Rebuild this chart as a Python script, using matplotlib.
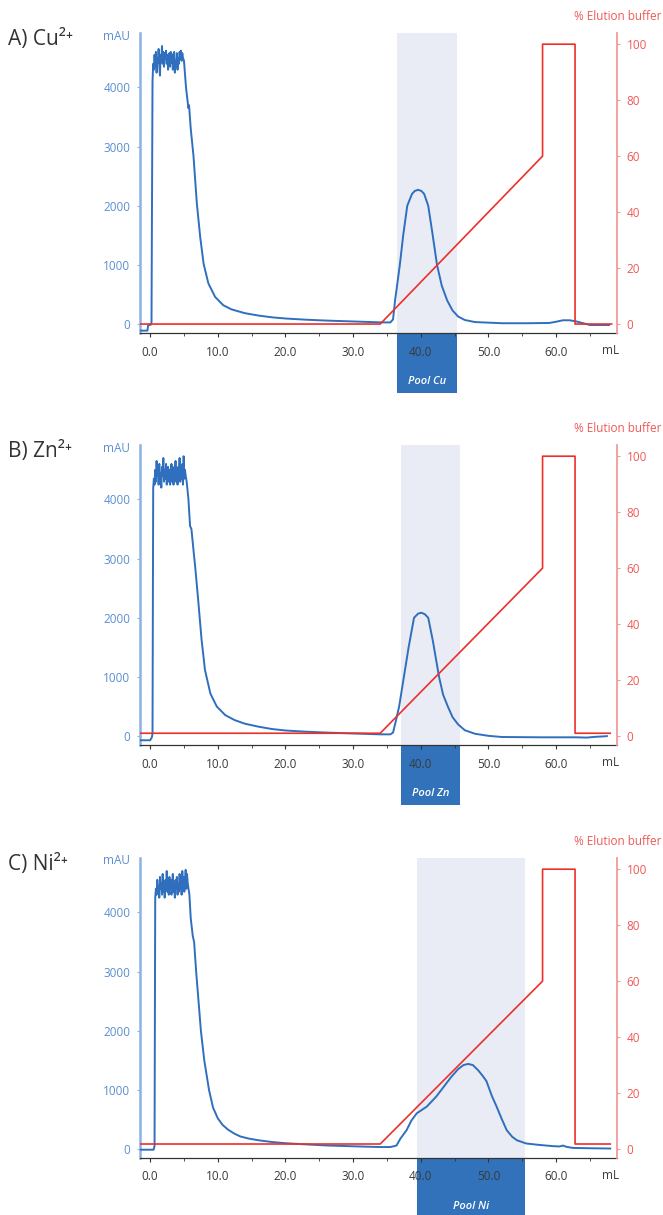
import matplotlib
matplotlib.use("Agg")
import matplotlib.pyplot as plt
from matplotlib.patches import Rectangle
from matplotlib.ticker import MultipleLocator
import matplotlib.transforms as mtransforms

plt.rcParams["font.family"] = ["Open Sans", "DejaVu Sans"]

# --- data (mL, mAU / % buffer B) ---
cu_ml = [-1.5, -0.4, -0.3, 0.1, 0.2, 0.35,
         0.45, 0.55, 0.65, 0.75, 0.85, 0.95, 1.05, 1.15, 1.25, 1.35, 1.45, 1.55,
         1.65, 1.75, 1.85, 1.95, 2.05, 2.15, 2.25, 2.35, 2.45, 2.55, 2.65, 2.75,
         2.85, 2.95, 3.05, 3.15, 3.25, 3.35, 3.45, 3.55, 3.65, 3.75, 3.85, 3.95,
         4.05, 4.15, 4.25, 4.35, 4.45, 4.55, 4.65, 4.75, 4.85, 5.0,
         5.3, 5.5, 5.66, 5.75, 6.0, 6.4, 6.9, 7.4, 7.9, 8.6, 9.6, 10.8, 12, 14,
         16, 18, 20, 23, 26, 30, 34, 35.5, 35.9, 36.2, 36.9, 37.4, 38.0, 38.7,
         39.1, 39.6, 40.1, 40.5, 41.1, 41.7, 42.4, 43.1, 43.9, 44.7, 45.5, 46.5,
         48, 52, 56, 59, 60, 61, 62, 63, 63.5, 64.5, 65, 67.8]
cu_mau = [-110, -110, -20, -10, 30, 4100,
          4400, 4300, 4550, 4350, 4600, 4250, 4500, 4420, 4650, 4380, 4200, 4550,
          4450, 4700, 4400, 4600, 4350, 4580, 4480, 4620, 4400, 4550, 4300, 4500,
          4580, 4350, 4600, 4420, 4560, 4300, 4480, 4600, 4250, 4450, 4350, 4580,
          4300, 4500, 4400, 4600, 4480, 4620, 4450, 4580, 4500, 4450,
          4000, 3800, 3650, 3700, 3300, 2850, 2040, 1470, 1020, 690, 460, 320, 250, 185,
          145, 115, 95, 75, 60, 45, 30, 28, 80, 400, 1000, 1500, 2000, 2200,
          2250, 2270, 2250, 2200, 2000, 1550, 1000, 650, 400, 230, 130, 70,
          35, 15, 15, 20, 40, 65, 65, 45, 30, 0, -15, -15]

zn_ml = [-1.5, 0.0, 0.25, 0.35,
         0.45, 0.55, 0.65, 0.75, 0.85, 0.95, 1.05, 1.15, 1.25, 1.35, 1.45, 1.55,
         1.65, 1.75, 1.85, 1.95, 2.05, 2.15, 2.25, 2.35, 2.45, 2.55, 2.65, 2.75,
         2.85, 2.95, 3.05, 3.15, 3.25, 3.35, 3.45, 3.55, 3.65, 3.75, 3.85, 3.95,
         4.05, 4.15, 4.25, 4.35, 4.45, 4.55, 4.65, 4.75, 4.85, 4.95, 5.05, 5.15,
         5.25, 5.4,
         5.66, 5.9, 6.1, 6.4, 6.65, 7.1, 7.6, 8.1, 8.9, 9.85, 11.1, 12.5, 14, 16,
         18, 20, 23, 26, 30, 34, 35.5, 35.9, 36.3, 36.8, 37.5, 38.2, 39.0, 39.6,
         40.1, 40.6, 41.1, 41.8, 42.7, 43.3, 44.0, 44.7, 45.5, 46.5, 48, 50,
         52, 58, 63, 64.5, 66, 67, 67.5]
zn_mau = [-70, -70, -20, 40,
          4200, 4350, 4250, 4500, 4300, 4650, 4400, 4550, 4250, 4600, 4350, 4450,
          4200, 4550, 4400, 4700, 4300, 4500, 4350, 4600, 4250, 4450, 4550, 4300,
          4500, 4250, 4400, 4600, 4300, 4550, 4250, 4450, 4350, 4650, 4300, 4500,
          4250, 4550, 4400, 4700, 4300, 4500, 4350, 4600, 4250, 4730, 4350, 4500,
          4400, 4300,
          4000, 3550, 3500, 3150, 2870, 2300, 1630, 1120, 720, 500, 355, 270, 210, 160,
          120, 95, 75, 60, 45, 30, 30, 60, 250, 500, 1000, 1500, 2000, 2070,
          2085, 2060, 2000, 1600, 1000, 700, 500, 320, 200, 100, 40, 5,
          -15, -20, -20, -25, -10, -5, 0]

ni_ml = [-1.5, 0.5, 0.65, 0.75,
         0.85, 0.95, 1.05, 1.15, 1.25, 1.35, 1.45, 1.55, 1.65, 1.75, 1.85, 1.95,
         2.05, 2.15, 2.25, 2.35, 2.45, 2.55, 2.65, 2.75, 2.85, 2.95, 3.05, 3.15,
         3.25, 3.35, 3.45, 3.55, 3.65, 3.75, 3.85, 3.95, 4.05, 4.15, 4.25, 4.35,
         4.45, 4.55, 4.65, 4.75, 4.85, 4.95, 5.05, 5.15, 5.25, 5.35, 5.45, 5.55,
         5.8, 6.0, 6.3, 6.5, 6.8, 7.5, 8.0, 8.7, 9.3, 10.0, 10.7, 11.5, 12.4,
         13.3, 14.5, 16, 18, 20, 23, 26,
         30, 34, 35.5, 36.4, 37.0, 37.9, 38.6, 39.4, 40.9, 42.3, 43.8, 44.5, 45.5,
         46.3, 47.0, 47.7, 48.5, 49.2, 49.7, 50.5, 51.2, 52, 52.7, 53.5, 54.2,
         55.6, 57.6, 59.6, 60.5, 61.0, 61.5, 62.5, 65, 68]
ni_mau = [-10, -10, 50, 4250,
          4400, 4300, 4550, 4350, 4450, 4250, 4600, 4400, 4500, 4300, 4650, 4350,
          4500, 4250, 4550, 4400, 4700, 4350, 4500, 4300, 4600, 4400, 4550, 4300,
          4450, 4650, 4350, 4500, 4250, 4550, 4400, 4600, 4300, 4500, 4350, 4650,
          4400, 4550, 4300, 4700, 4450, 4600, 4350, 4500, 4720, 4400, 4650, 4500,
          4300, 3900, 3600, 3500, 3000, 2000, 1500, 1000, 700, 520, 410, 330, 265,
          215, 180, 150, 120, 100, 80, 62,
          48, 35, 35, 60, 180, 320, 480, 605, 720, 890, 1115, 1220, 1350,
          1420, 1440, 1420, 1330, 1230, 1150, 900, 720, 500, 320, 210, 150,
          95, 70, 50, 45, 60, 40, 20, 15, 10]

# gradient (% elution buffer)
cu_grad_ml = [-1.5, 34.0, 58.0, 58.0, 62.8, 62.8, 68.2]
cu_grad_pct = [0, 0, 60, 100, 100, 0, 0]
zn_grad_ml = [-1.5, 34.0, 58.0, 58.0, 62.8, 62.8, 68.0]
zn_grad_pct = [1.0, 1.0, 60, 100, 100, 1.0, 1.0]
ni_grad_ml = [-1.5, 34.0, 58.0, 58.0, 62.8, 62.8, 68.0]
ni_grad_pct = [1.8, 1.8, 60, 100, 100, 1.8, 1.8]

# pooled fractions (mL)
pools = [(36.5, 45.3), (37.1, 45.8), (39.4, 55.4)]
pool_labels = ["Pool Cu", "Pool Zn", "Pool Ni"]
panel_labels = ["A) Cu²⁺", "B) Zn²⁺", "C) Ni²⁺"]

x_ticks = [0, 10, 20, 30, 40, 50, 60]
x_tick_labels = ["0.0", "10.0", "20.0", "30.0", "40.0", "50.0", "60.0"]
mau_ticks = [0, 1000, 2000, 3000, 4000]
pct_ticks = [0, 20, 40, 60, 80, 100]

BLUE = "#2f6fbd"
BLUE_AXIS = "#8cb2e2"
BLUE_TEXT = "#5a8fd2"
RED = "#ec2f2a"
RED_AXIS = "#f29a9a"
RED_TEXT = "#ee5a55"
SHADE = "#e9ebf5"
POOL = "#3172ba"
GREY = "#333333"


def draw_panel(ax, ml, mau, grad_ml, grad_pct, pool, pool_label, panel_label):
    ax.axvspan(pool[0], pool[1], color=SHADE, lw=0, zorder=0)
    ax.plot(ml, mau, color=BLUE, lw=1.4, zorder=3)

    ax.set_xlim(-1.5, 69)
    ax.set_ylim(-150, 4920)
    ax.set_xticks(x_ticks)
    ax.set_xticklabels(x_tick_labels)
    ax.xaxis.set_minor_locator(MultipleLocator(5))
    ax.tick_params(axis="x", which="major", length=3, width=0.8, color=GREY,
                   labelsize=8.5, labelcolor="#3a3a3a", pad=6)
    ax.tick_params(axis="x", which="minor", length=2, width=0.6, color=GREY)
    ax.set_yticks(mau_ticks)
    ax.tick_params(axis="y", length=2, width=0.8, color=BLUE_AXIS,
                   labelsize=8.5, labelcolor=BLUE_TEXT, pad=5)

    for side in ("top", "right"):
        ax.spines[side].set_visible(False)
    ax.spines["left"].set_color(BLUE_AXIS)
    ax.spines["left"].set_linewidth(1.8)
    ax.spines["bottom"].set_color(GREY)
    ax.spines["bottom"].set_linewidth(0.9)

    ax2 = ax.twinx()
    ax2.plot(grad_ml, grad_pct, color=RED, lw=1.2, zorder=4)
    ax2.set_ylim(-3.2, 104)
    ax2.set_yticks(pct_ticks)
    ax2.tick_params(axis="y", length=2, width=0.8, color=RED_AXIS,
                    labelsize=8.5, labelcolor=RED_TEXT, pad=5)
    for side in ("top", "left", "bottom"):
        ax2.spines[side].set_visible(False)
    ax2.spines["right"].set_color(RED_AXIS)
    ax2.spines["right"].set_linewidth(1.3)

    trans = mtransforms.blended_transform_factory(ax.transData, ax.transAxes)
    box = Rectangle((pool[0], -0.2), pool[1] - pool[0], 0.2, transform=trans,
                    facecolor=POOL, edgecolor="none", clip_on=False, zorder=1)
    ax.add_patch(box)
    ax.text((pool[0] + pool[1]) / 2, -0.163, pool_label, transform=trans,
            ha="center", va="center", color="white", fontsize=8,
            fontstyle="italic", fontweight="semibold")
    ax.text(68, -0.057, "mL", transform=trans, ha="center", va="center",
            fontsize=8.5, color="#3a3a3a")

    ax.text(-0.021, 0.99, "mAU", transform=ax.transAxes, ha="right",
            va="center", fontsize=8.5, color=BLUE_TEXT)
    ax.text(1.094, 1.055, "% Elution buffer", transform=ax.transAxes,
            ha="right", va="center", fontsize=8.5, color=RED_TEXT)
    ax.text(-0.277, 0.978, panel_label, transform=ax.transAxes, ha="left",
            va="center", fontsize=15, color="#333333")


fig = plt.figure(figsize=(6.63, 12.15), dpi=100)
left, width, height = 140 / 663, 477 / 663, 300 / 1215
bottoms = [1 - 333 / 1215, 1 - 745 / 1215, 1 - 1158 / 1215]
series = [(cu_ml, cu_mau, cu_grad_ml, cu_grad_pct),
          (zn_ml, zn_mau, zn_grad_ml, zn_grad_pct),
          (ni_ml, ni_mau, ni_grad_ml, ni_grad_pct)]

for i in range(3):
    ax = fig.add_axes([left, bottoms[i], width, height])
    ml, mau, gml, gpct = series[i]
    draw_panel(ax, ml, mau, gml, gpct, pools[i], pool_labels[i], panel_labels[i])

fig.savefig("out.png", dpi=100)
plt.close(fig)
